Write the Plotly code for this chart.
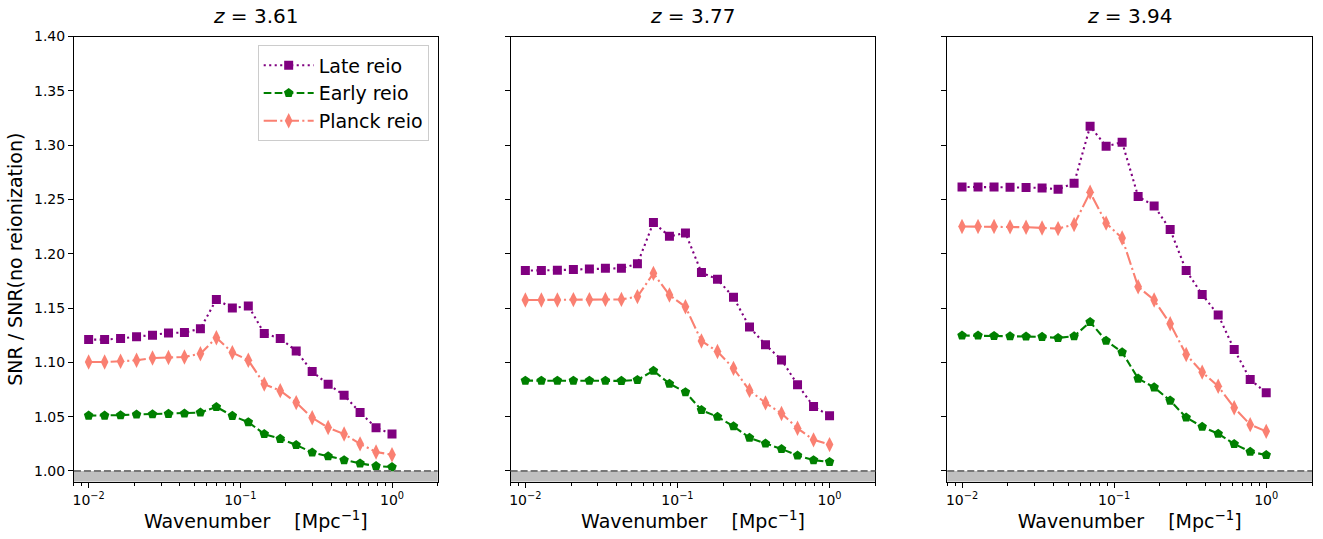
import numpy as np
import plotly.graph_objects as go

k = np.logspace(-2, 0, 20)

titles = ["z = 3.61", "z = 3.77", "z = 3.94"]

late_361 = [1.121, 1.121, 1.122, 1.1236, 1.125, 1.127, 1.1275, 1.131, 1.158, 1.150,
            1.152, 1.1266, 1.122, 1.1106, 1.0915, 1.0798, 1.0698, 1.0538, 1.0399, 1.034]
planck_361 = [1.1003, 1.1003, 1.101, 1.102, 1.104, 1.1045, 1.105, 1.108, 1.1227, 1.109,
              1.102, 1.080, 1.074, 1.063, 1.049, 1.040, 1.034, 1.025, 1.0175, 1.015]
early_361 = [1.051, 1.051, 1.0514, 1.052, 1.0523, 1.0526, 1.053, 1.0538, 1.059, 1.0508,
             1.045, 1.034, 1.0296, 1.024, 1.017, 1.0136, 1.010, 1.007, 1.0045, 1.0036]

late_377 = [1.1846, 1.1846, 1.1849, 1.1855, 1.1861, 1.1867, 1.1867, 1.1908, 1.2288, 1.2161,
            1.2192, 1.1827, 1.1765, 1.160, 1.1325, 1.1163, 1.1023, 1.0795, 1.0595, 1.0508]
planck_377 = [1.1574, 1.1574, 1.1574, 1.1578, 1.1578, 1.158, 1.158, 1.1606, 1.182, 1.162,
              1.1512, 1.1197, 1.110, 1.0945, 1.0742, 1.0627, 1.053, 1.0393, 1.0287, 1.0243]
early_377 = [1.0832, 1.0832, 1.0832, 1.0832, 1.0832, 1.0832, 1.083, 1.0839, 1.0923, 1.0804,
             1.0726, 1.0561, 1.0499, 1.0412, 1.0306, 1.0253, 1.0203, 1.0143, 1.010, 1.0084]

late_394 = [1.2616, 1.2616, 1.2616, 1.2613, 1.261, 1.2606, 1.2594, 1.265, 1.3174, 1.299,
            1.3027, 1.2528, 1.2441, 1.2223, 1.1846, 1.1624, 1.1437, 1.1119, 1.0842, 1.072]
planck_394 = [1.2251, 1.2251, 1.2251, 1.2248, 1.2245, 1.2238, 1.2232, 1.227, 1.2566, 1.2282,
              1.2145, 1.1696, 1.1574, 1.1356, 1.1072, 1.091, 1.078, 1.0583, 1.0427, 1.0365]
early_394 = [1.1247, 1.1247, 1.1244, 1.1241, 1.1238, 1.1235, 1.1225, 1.1241, 1.1372, 1.12,
             1.1094, 1.0851, 1.077, 1.0648, 1.0493, 1.0408, 1.0343, 1.0249, 1.0178, 1.0147]

panels = [
    (late_361, early_361, planck_361),
    (late_377, early_377, planck_377),
    (late_394, early_394, planck_394),
]

series_names = ["Late reio", "Early reio", "Planck reio"]
colors = ["#800080", "#008000", "#fa8072"]
dashes = ["2.1px,3.4px", "7.7px,3.3px", "13.3px,3.3px,2.1px,3.3px"]
symbols = ["square", "pentagon", "diamond-tall"]
msizes = [9, 10, 11]

y_ticks = [1.00, 1.05, 1.10, 1.15, 1.20, 1.25, 1.30, 1.35, 1.40]
x_ticks = [0.01, 0.1, 1.0]
x_ticktext = ["10<sup>−2</sup>", "10<sup>−1</sup>", "10<sup>0</sup>"]

W, H = 1323, 539
x_domains = [(73 / W, 437 / W), (510 / W, 875 / W), (947 / W, 1312 / W)]
y_domain = (1 - 481 / H, 1 - 29 / H)

minor_vals = []
for dec in [0.001, 0.01, 0.1, 1.0]:
    for m in range(2, 10):
        minor_vals.append(dec * m)

fig = go.Figure()
font_family = "DejaVu Sans"

for p, vals in enumerate(panels):
    xa = "x" if p == 0 else f"x{p+1}"
    ya = "y" if p == 0 else f"y{p+1}"
    for s in range(3):
        fig.add_trace(go.Scatter(
            x=k, y=vals[s], mode="lines+markers", name=series_names[s],
            xaxis=xa, yaxis=ya, showlegend=(p == 0),
            line=dict(color=colors[s], width=2.1, dash=dashes[s]),
            marker=dict(symbol=symbols[s], size=msizes[s], color=colors[s],
                        line=dict(width=0)),
        ))
    xref_dom = ("x" if p == 0 else f"x{p+1}") + " domain"
    yref = "y" if p == 0 else f"y{p+1}"
    fig.add_shape(type="rect", xref=xref_dom, yref=yref, x0=0, x1=1, y0=0.99, y1=1.0,
                  fillcolor="#bfbfbf", line=dict(width=0), layer="below")
    fig.add_shape(type="line", xref=xref_dom, yref=yref, x0=0, x1=1, y0=1.0, y1=1.0,
                  line=dict(color="#777777", width=2, dash="7px,3px"), layer="above")
    fig.add_annotation(text="<i>z</i> = " + titles[p].split("= ")[1], xref="paper", yref="paper",
                       x=(x_domains[p][0] + x_domains[p][1]) / 2, y=y_domain[1] + 0.012,
                       xanchor="center", yanchor="bottom", showarrow=False,
                       font=dict(size=20, color="black", family=font_family))

    xaxis = dict(
        type="log", domain=list(x_domains[p]), anchor=ya,
        range=[np.log10(0.008), np.log10(2.0)],
        tickmode="array", tickvals=x_ticks, ticktext=x_ticktext,
        ticks="outside", ticklen=5, tickwidth=1, tickcolor="black",
        minor=dict(tickmode="array", tickvals=minor_vals, ticks="outside",
                   ticklen=3, tickwidth=0.8, tickcolor="black", showgrid=False),
        showline=True, linecolor="black", linewidth=1, mirror=True,
        showgrid=False, zeroline=False,
        tickfont=dict(size=14, color="black", family=font_family),
        title=dict(text="Wavenumber    [Mpc<sup>−1</sup>]",
                   font=dict(size=19, color="black", family=font_family), standoff=6),
    )
    yaxis = dict(
        domain=list(y_domain), anchor=xa, range=[0.99, 1.40],
        tickmode="array", tickvals=y_ticks,
        ticktext=[f"{v:.2f}" for v in y_ticks] if p == 0 else [""] * len(y_ticks),
        showticklabels=(p == 0),
        ticks="outside", ticklen=5, tickwidth=1, tickcolor="black",
        showline=True, linecolor="black", linewidth=1, mirror=True,
        showgrid=False, zeroline=False,
        tickfont=dict(size=14, color="black", family=font_family),
    )
    if p == 0:
        yaxis["title"] = dict(text="SNR / SNR(no reionization)",
                              font=dict(size=19, color="black", family=font_family), standoff=6)
    fig.layout["xaxis" if p == 0 else f"xaxis{p+1}"] = xaxis
    fig.layout["yaxis" if p == 0 else f"yaxis{p+1}"] = yaxis

fig.update_layout(
    width=W, height=H,
    margin=dict(l=0, r=0, t=0, b=0),
    paper_bgcolor="white", plot_bgcolor="white",
    font=dict(family=font_family, color="black"),
    legend=dict(x=428 / W, y=1 - 38 / H, xanchor="right", yanchor="top",
                bgcolor="rgba(255,255,255,0.8)", bordercolor="#cccccc", borderwidth=1,
                font=dict(size=19, color="black", family=font_family),
                itemwidth=50, tracegroupgap=2),
)

fig.write_html("out.html")
